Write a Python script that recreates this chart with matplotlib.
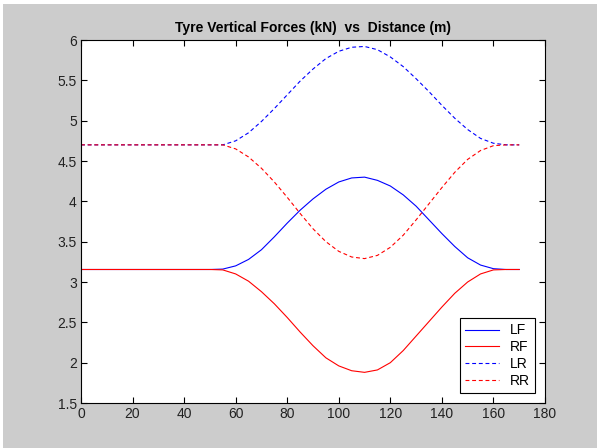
import matplotlib
matplotlib.use("Agg")
import matplotlib.pyplot as plt
from matplotlib.patches import Rectangle

# distance (m)
distance = [0, 5, 10, 15, 20, 25, 30, 35, 40, 45, 50, 55, 60, 65, 70, 75, 80, 85,
            90, 95, 100, 105, 110, 115, 120, 125, 130, 135, 140, 145, 150, 155,
            160, 165, 170]
# tyre vertical forces (kN)
lf = [3.155] * 11 + [3.16, 3.20, 3.28, 3.40, 3.56, 3.73, 3.89, 4.03, 4.15, 4.24,
                     4.29, 4.30, 4.26, 4.19, 4.08, 3.94, 3.77, 3.60, 3.44, 3.30,
                     3.21, 3.165, 3.155, 3.155]
rf = [3.155] * 11 + [3.15, 3.10, 3.01, 2.88, 2.73, 2.56, 2.38, 2.21, 2.06, 1.96,
                     1.90, 1.88, 1.91, 2.00, 2.15, 2.33, 2.51, 2.69, 2.86, 3.00,
                     3.10, 3.15, 3.155, 3.155]
lr = [4.70] * 11 + [4.70, 4.75, 4.85, 4.99, 5.15, 5.32, 5.49, 5.64, 5.77, 5.86,
                    5.91, 5.92, 5.88, 5.79, 5.67, 5.52, 5.36, 5.19, 5.03, 4.89,
                    4.78, 4.72, 4.70, 4.70]
rr = [4.70] * 11 + [4.70, 4.65, 4.55, 4.41, 4.24, 4.05, 3.85, 3.66, 3.50, 3.38,
                    3.31, 3.29, 3.33, 3.43, 3.58, 3.77, 3.97, 4.17, 4.36, 4.52,
                    4.63, 4.69, 4.70, 4.70]

xticks = [0, 20, 40, 60, 80, 100, 120, 140, 160, 180]
yticks = [1.5, 2, 2.5, 3, 3.5, 4, 4.5, 5, 5.5, 6]
ytick_labels = ["1.5", "2", "2.5", "3", "3.5", "4", "4.5", "5", "5.5", "6"]

plt.rcParams["font.family"] = ["Liberation Sans", "DejaVu Sans"]

fig = plt.figure(figsize=(5.97, 4.48), dpi=100, facecolor="white")
fig.patches.append(Rectangle((3 / 597, 0), 1, 1 - 4 / 448, transform=fig.transFigure,
                             facecolor="#cccccc", edgecolor="none", zorder=-10))
ax = fig.add_axes([81 / 597, 1 - 403 / 448, 464 / 597, 363 / 448])

lw = 0.8
ax.plot(distance, lf, color="b", lw=lw, label="LF")
ax.plot(distance, rf, color="r", lw=lw, label="RF")
ax.plot(distance, lr, color="b", lw=lw, dashes=(3.5, 2.5), label="LR")
ax.plot(distance, rr, color="r", lw=lw, dashes=(3.5, 2.5), label="RR")

ax.set_xlim(0, 180)
ax.set_ylim(1.5, 6)
ax.set_xticks(xticks)
ax.set_yticks(yticks)
ax.set_yticklabels(ytick_labels)
ax.tick_params(direction="in", top=True, right=True, length=4, width=0.8,
               labelsize=10, colors="black", labelcolor="#222222", pad=3)
for s in ax.spines.values():
    s.set_linewidth(0.8)

ax.set_title("Tyre Vertical Forces (kN)  vs  Distance (m)", fontsize=10,
             fontweight="bold", pad=6)

leg = ax.legend(loc="lower right", fontsize=10, fancybox=False, framealpha=1,
                edgecolor="black", handlelength=2.4, borderpad=0.4,
                labelspacing=0.2, handletextpad=0.8, borderaxespad=0.7)
leg.get_frame().set_linewidth(0.8)

fig.savefig("out.png", dpi=100, facecolor=fig.get_facecolor())
